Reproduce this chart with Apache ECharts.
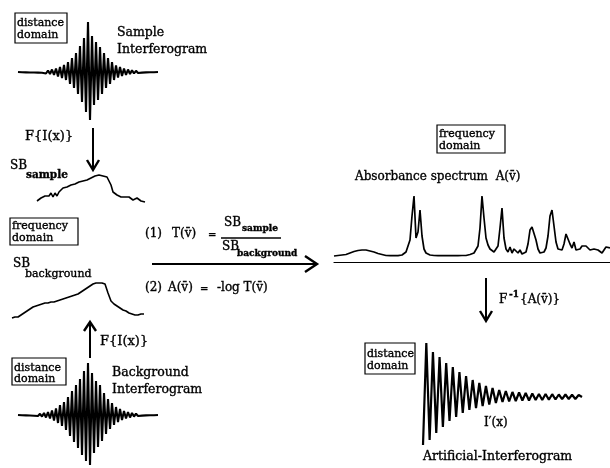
<!DOCTYPE html>
<html>
<head>
<meta charset="utf-8">
<script src="https://cdn.jsdelivr.net/npm/echarts/dist/echarts.min.js"></script>
<style>html,body{margin:0;padding:0;background:#fff;}#c{width:610px;height:468px;}</style>
</head>
<body>
<div id="c"></div>
<script>
// ---- data ----
const sampleIfg = [0,0.3,-0.3,0.3,-0.4,0.4,-0.5,0.5,-0.5,0.6,
  -0.6,0.7,-0.8,1,-1.5,1.5,-2,2.5,-3,3.5,
  -4.5,5,-6,7,-8,10,-12,14,-16,19,
  -22,26,-30,34,-40,50,-48,36,-33,30,
  -28,25,-22,19,-16,14,-12,10,-8,6.5,
  -5.5,5,-4,3.5,-3,2.5,-2,1.8,-1.5,1.2,
  -1,0.8,-0.6,0.5,-0.4,0.3,-0.3,0.2,-0.2,0.1,
  0];
const backgroundIfg = [0,0.3,-0.3,0.4,-0.4,0.5,-0.5,0.6,-0.7,0.8,
  -1,1.2,-1.5,2,-2.5,3,-3.5,4.5,-5.5,6.5,
  -8,10,-11,13,-15,18,-21,24,-27,30,
  -33,36,-40,44,-46,52,-50,42,-38,34,
  -32,30,-26,22,-19,16,-14,12,-10,8,
  -7,6,-5,4,-3.5,3,-2.5,2,-1.6,1.3,
  -1,0.8,-0.6,0.5,-0.4,0.3,-0.3,0.2,-0.2,0.1,
  0];
const sbSample = [2,3,5,6,7,8,7,10,6,10,
  7,11,9,15,16,16,17,18,19,19,
  20,21,21,22,22,23,24,25,26,27,
  28,28,27,27,26,26,28,18,11,13,
  8,10,6,8,6,5,6,4,3,4,
  5,3,2,1.5,1];
const sbBackground = [2,3,3,5,7,9,11,13,14,15,
  16,17,17,18,18,19,20,21,22,23,
  24,25,26,28,30,32,34,36,37,37,
  37,36,27,19,16,14,12,10,9,7,
  6,5,5,6,6];
const absorbance = [0,0,0.5,0.5,1,1,1.5,2.5,3,4,
  4.5,5,5.5,6,6,6,6,5.5,5,4.5,
  4,3,2.5,2,1.5,1,0.5,0.5,0.3,0.3,
  0.3,0.3,0.3,0.5,1,2,4,10,16,40,
  60,18,24,46,20,7,3,1.5,1,0.5,
  0.5,0.5,0.3,0.3,0.3,0.5,0.5,0.3,0.3,0.3,
  0.3,0.3,0.3,0.3,0.5,0.5,0.5,1,1.5,2,
  3,5,10,28,60,38,18,11,7,5,
  4,5,10,28,48,18,7,4,9,3,
  7,8,3,6,2,1.5,4,12,26,29,
  27,16,7,3,2.5,4,8,20,40,46,
  30,14,7,5,6,12,22,24,12,8,
  14,6,4,7,10,12,10,8,6,5,
  7,8,6,4,3,6,9,11,8];
const artificialIfg = [-48,54,-43,45,-36,40,-30,34,-24,30,
  -20,25,-16,21,-13,17,-11,14,-9,11,
  -7.5,9,-6,7,-5,6,-4.5,5,-4,4.5,
  -3.5,4,-3.5,3.5,-3,3,-3,3,-2.8,2.8,
  -2.5,2.5,-2.2,2.5,-2,2.2,-2,2,0];

// ---- layout ----
const FONT = "'DejaVu Serif', serif";
const panels = [
  {data: sampleIfg,     grid:{left:18, top:22, width:140, height:98},  y:[-48,50], w:2.1},
  {data: sbSample,      grid:{left:37, top:173, width:108, height:30}, y:[0,30],   w:1.6},
  {data: sbBackground,  grid:{left:12, top:280, width:132, height:40}, y:[0,40],   w:1.6},
  {data: backgroundIfg, grid:{left:18, top:363, width:140, height:102},y:[-50,52], w:2.1},
  {data: absorbance,    grid:{left:334, top:194, width:276, height:68},y:[-6,62],  w:1.7, axis:true},
  {data: artificialIfg, grid:{left:423, top:343, width:159, height:102},y:[-48,54], w:2.2}
];

function txt(x, y, s, size, weight) {
  return {type:'text', x:x, y:y, silent:true, z:10,
    style:{text:s, fill:'#000', stroke:'#000', lineWidth:0.35,
      font:(weight||'normal')+' '+size+'px '+FONT,
      textAlign:'left', textVerticalAlign:'middle'}};
}
function box(x, y, w, h) {
  return {type:'rect', shape:{x:x, y:y, width:w, height:h}, silent:true, z:10,
    style:{fill:'none', stroke:'#000', lineWidth:1.2}};
}
function line(x1, y1, x2, y2, lw) {
  return {type:'line', shape:{x1:x1, y1:y1, x2:x2, y2:y2}, silent:true, z:10,
    style:{stroke:'#000', lineWidth:lw||2}};
}
function chevron(pts, lw) {
  return {type:'polyline', shape:{points:pts}, silent:true, z:10,
    style:{stroke:'#000', lineWidth:lw||2.4, fill:'none'}};
}
const vbar = 'v\u0304';

const graphics = [
  box(15,13,52,30), txt(17,23,'distance',11), txt(17,35,'domain',11),
  txt(117,33,'Sample',12.5), txt(117,50,'Interferogram',12.5),
  line(93,128,93,169), chevron([[87,160],[93,170],[99,160]]),
  txt(25,137,'F{I(x)}',13),
  txt(10,166,'SB',12), txt(26,175,'sample',10.5,'bold'),
  box(10,218,68,27), txt(12,226,'frequency',11), txt(12,238,'domain',11),
  txt(13,264,'SB',12), txt(25,274,'background',11),
  txt(145,234,'(1)',12), txt(172,234,'T('+vbar+')',12), txt(208,234,'=',10,'bold'),
  txt(224,223,'SB',12), txt(242,229,'sample',9,'bold'),
  line(221,238,281,238,1.5),
  txt(222,247,'SB',12), txt(237,254,'background',9,'bold'),
  line(152,264,316,264,2.2), chevron([[305,256],[317,264],[305,272]],2.4),
  txt(145,288,'(2)',12), txt(168,288,'A('+vbar+')',12), txt(200,288,'=',10,'bold'),
  txt(217,288,'-log T('+vbar+')',12),
  box(437,125,68,28), txt(439,134,'frequency',11), txt(439,146,'domain',11),
  txt(355,177,'Absorbance spectrum  A('+vbar+')',12),
  line(486,278,486,320), chevron([[480,311],[486,321],[492,311]]),
  txt(499,300,'F',12), txt(509,295,'-1',9,'bold'), txt(520,300,'{A('+vbar+')}',12),
  box(365,343,50,31), txt(367,354,'distance',11), txt(367,366,'domain',11),
  txt(484,423,'I\u2032(x)',12),
  txt(423,457,'Artificial-Interferogram',12.5),
  line(90,358,90,323), chevron([[84,331],[90,322],[96,331]]),
  txt(100,342,'F{I(x)}',13),
  box(12,358,54,27), txt(14,368,'distance',11), txt(14,379,'domain',11),
  txt(112,373,'Background',12.5), txt(112,390,'Interferogram',12.5)
];

const option = {
  backgroundColor:'#fff',
  animation:false,
  grid: panels.map(p => Object.assign({containLabel:false}, p.grid)),
  xAxis: panels.map((p,i) => ({
    type:'value', gridIndex:i, min:0, max:p.data.length-1,
    show: !!p.axis,
    axisLine:{show:!!p.axis, onZero:false, lineStyle:{color:'#000', width:1.2}},
    axisTick:{show:false}, axisLabel:{show:false}, splitLine:{show:false}
  })),
  yAxis: panels.map((p,i) => ({
    type:'value', gridIndex:i, min:p.y[0], max:p.y[1], show:false,
    splitLine:{show:false}
  })),
  series: panels.map((p,i) => ({
    type:'line', xAxisIndex:i, yAxisIndex:i, symbol:'none', silent:true,
    data: p.data.map((v,k) => [k, v]),
    lineStyle:{color:'#000', width:p.w}
  })),
  graphic: graphics
};
const chart = echarts.init(document.getElementById('c'), null, {renderer:'canvas'});
chart.setOption(option);
</script>
</body>
</html>
